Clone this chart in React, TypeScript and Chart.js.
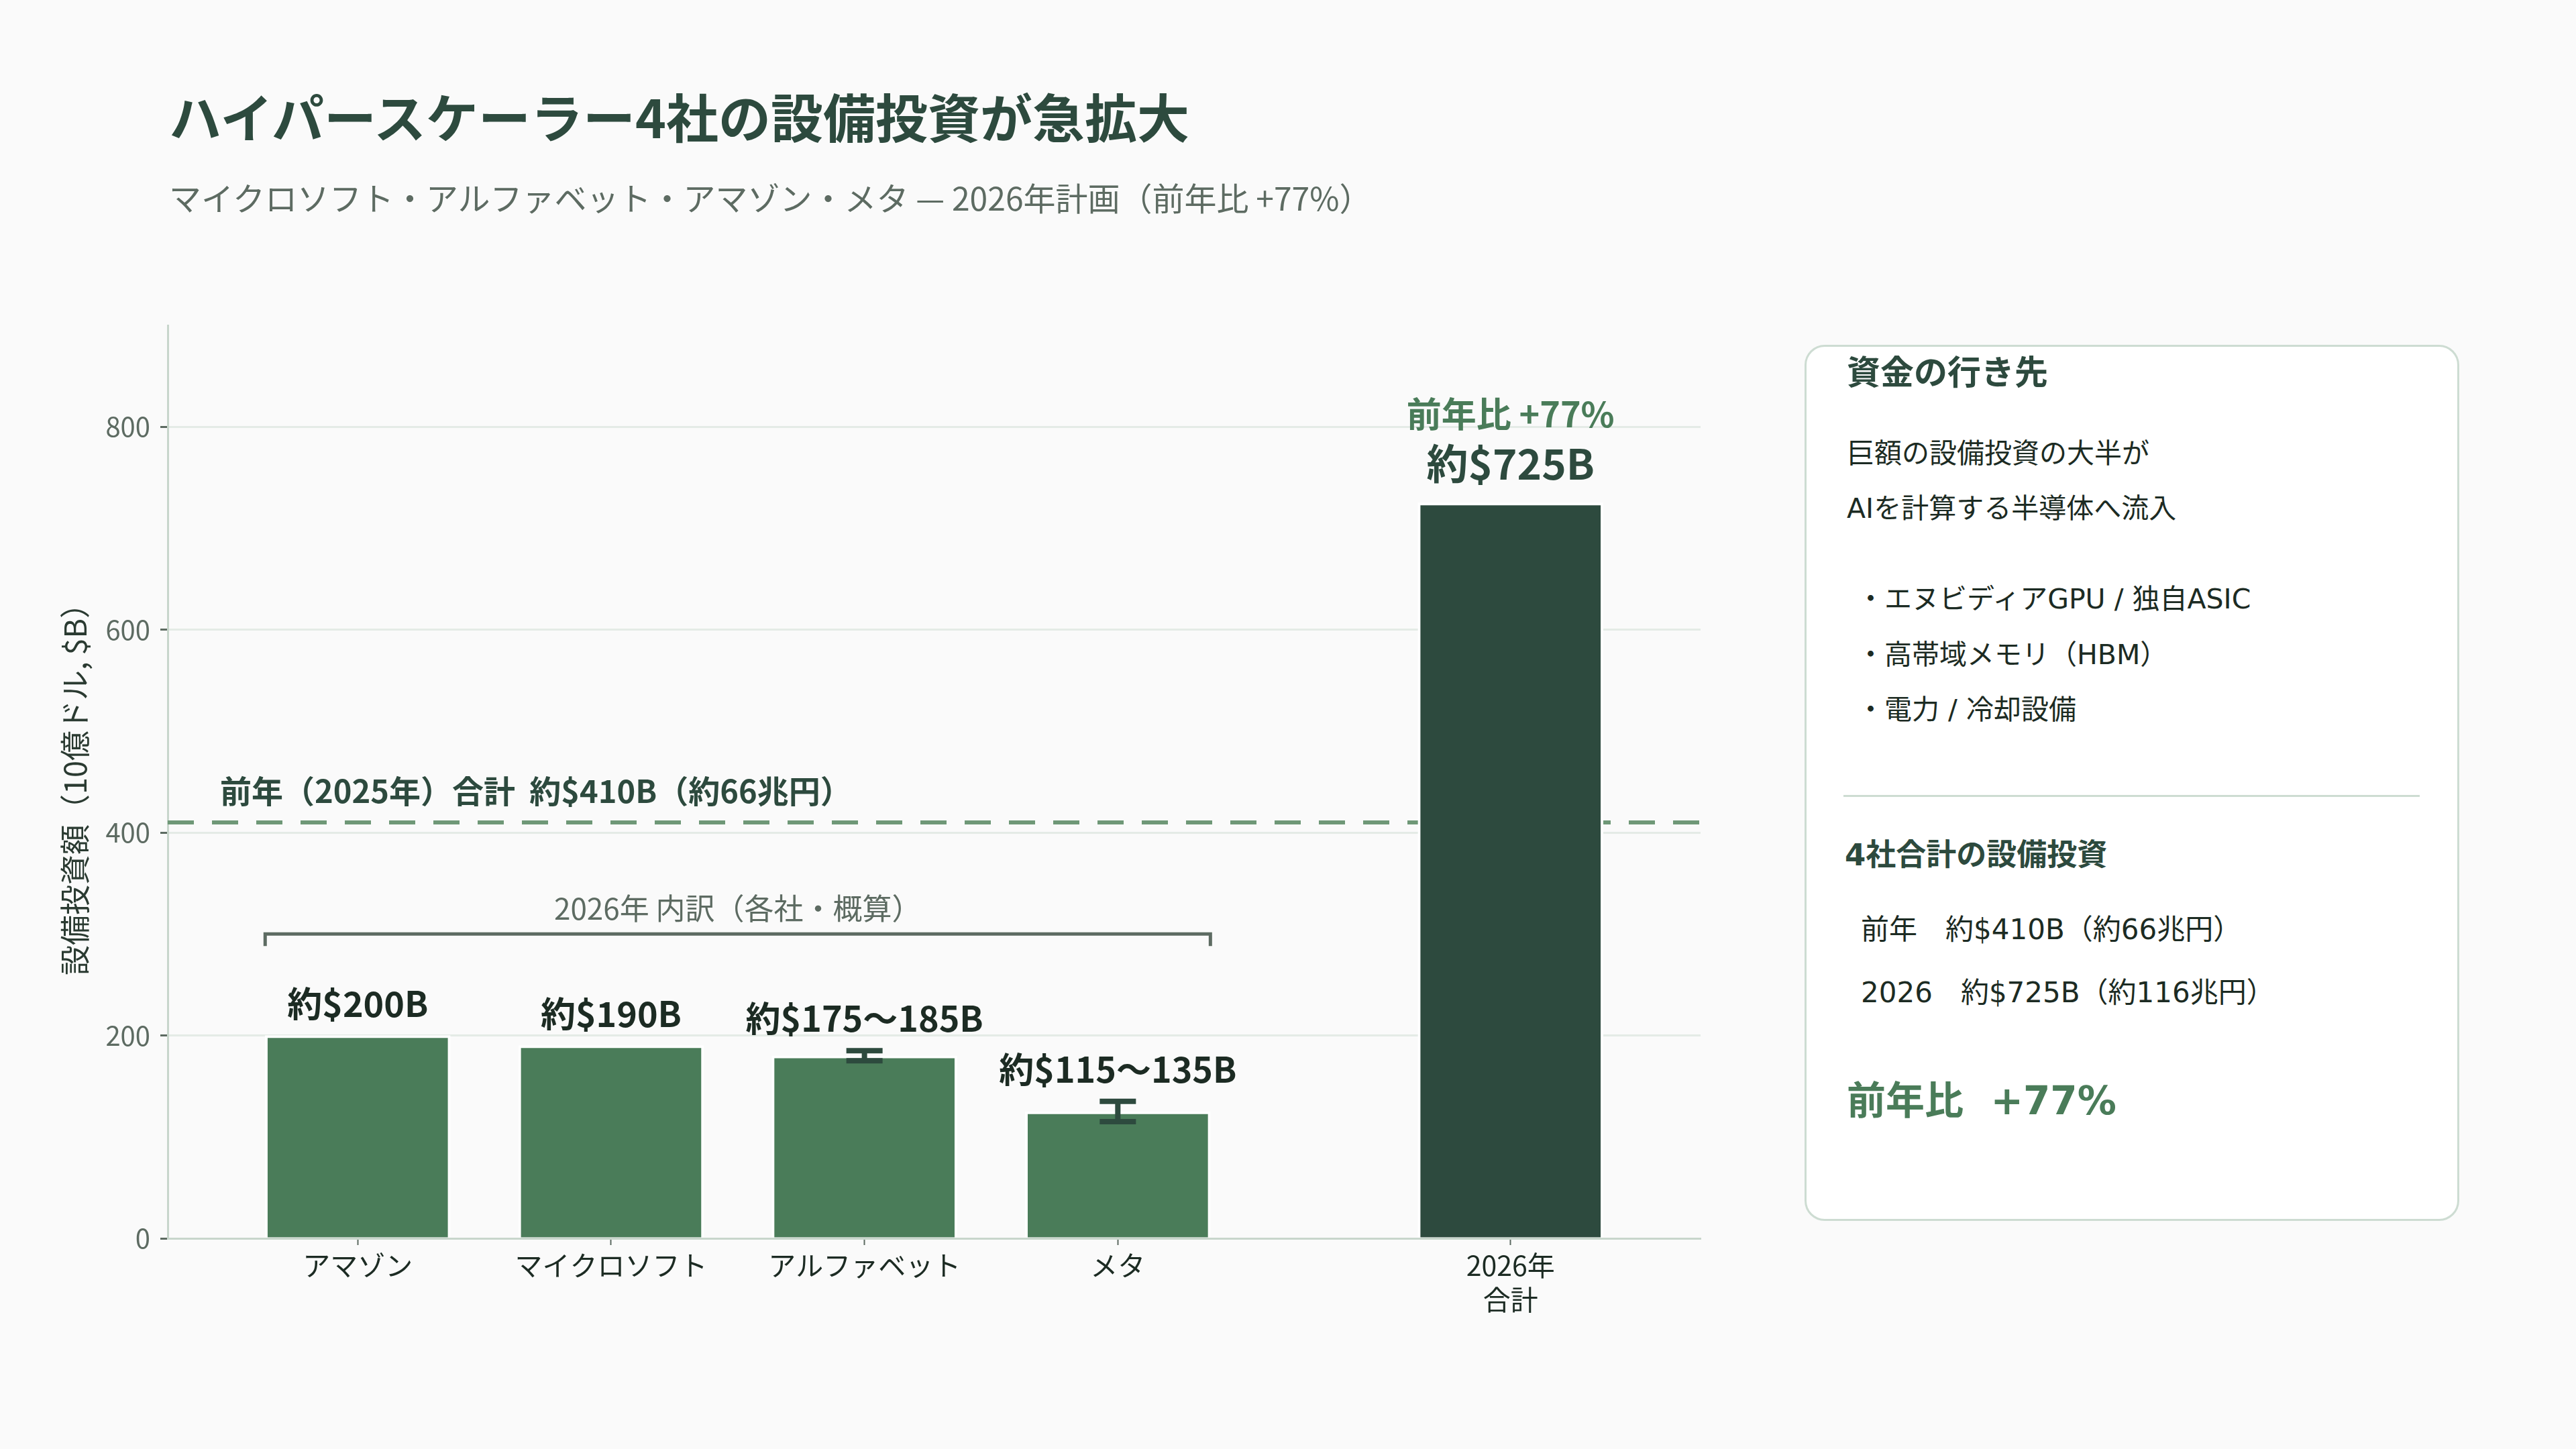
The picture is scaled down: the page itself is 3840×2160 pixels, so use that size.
import React, { useEffect, useRef } from 'react';
import { Chart, registerables } from 'chart.js';

Chart.register(...registerables);

// ---------- data ----------
const categories = ['アマゾン', 'マイクロソフト', 'アルファベット', 'メタ', '2026年\n合計'];
const slots = [0, 1, 2, 3, 4.55];
const capex = [200, 190, 180, 125, 725];
const rangeLow: (number | null)[] = [null, null, 175, 115, null];
const rangeHigh: (number | null)[] = [null, null, 185, 135, null];
const valueLabels = ['約$200B', '約$190B', '約$175〜185B', '約$115〜135B', '約$725B'];
const isTotal = [false, false, false, false, true];
const totalGrowthLabel = '前年比 +77%';
const prevYearTotal = 410;
const prevYearLabel = '前年（2025年）合計  約$410B（約66兆円）';
const breakdownLevel = 300;
const breakdownLabel = '2026年 内訳（各社・概算）';
const yTicks = [0, 200, 400, 600, 800];
const yMax = 900;
const yTitle = '設備投資額（10億ドル, $B）';

const FONT = '"Noto Sans CJK JP", "Noto Sans", sans-serif';
const PFONT = '"DejaVu Sans", "Noto Sans CJK JP", sans-serif';
const C_DARK = '#2d4a3e';
const C_MID = '#4a7c59';
const C_GRAY = '#5d6b62';
const C_TEXT = '#1c2b23';

const annotations = {
  id: 'annotations',
  beforeDatasetsDraw(chart: any) {
    const { ctx, chartArea, scales } = chart;
    const y = scales.y;
    const py = y.getPixelForValue(prevYearTotal);
    ctx.save();
    ctx.strokeStyle = '#6f9877';
    ctx.lineWidth = 6;
    ctx.setLineDash([39, 27]);
    ctx.beginPath();
    ctx.moveTo(chartArea.left, py);
    ctx.lineTo(chartArea.right, py);
    ctx.stroke();
    ctx.restore();
  },
  afterDatasetsDraw(chart: any) {
    const { ctx, chartArea, scales } = chart;
    const y = scales.y;
    const meta = chart.getDatasetMeta(0);
    ctx.save();
    // error bars
    meta.data.forEach((bar: any, i: number) => {
      const lo = rangeLow[i];
      const hi = rangeHigh[i];
      if (lo == null || hi == null) return;
      const yl = y.getPixelForValue(lo);
      const yh = y.getPixelForValue(hi);
      ctx.strokeStyle = C_DARK;
      ctx.lineWidth = 8;
      ctx.beginPath();
      ctx.moveTo(bar.x, yl);
      ctx.lineTo(bar.x, yh);
      ctx.moveTo(bar.x - 27, yl);
      ctx.lineTo(bar.x + 27, yl);
      ctx.moveTo(bar.x - 27, yh);
      ctx.lineTo(bar.x + 27, yh);
      ctx.stroke();
    });
    // value labels
    ctx.textAlign = 'center';
    ctx.textBaseline = 'alphabetic';
    meta.data.forEach((bar: any, i: number) => {
      const topVal = Math.max(capex[i], rangeHigh[i] ?? 0);
      const top = y.getPixelForValue(topVal);
      if (isTotal[i]) {
        ctx.fillStyle = C_DARK;
        ctx.font = `bold 62px ${FONT}`;
        ctx.fillText(valueLabels[i], bar.x, top - 35);
        ctx.fillStyle = C_MID;
        ctx.font = `bold 52px ${FONT}`;
        ctx.fillText(totalGrowthLabel, bar.x, top - 113);
      } else {
        ctx.fillStyle = C_TEXT;
        ctx.font = `bold 52px ${FONT}`;
        ctx.fillText(valueLabels[i], bar.x, top - 28);
      }
    });
    // previous-year label
    const py = y.getPixelForValue(prevYearTotal);
    ctx.textAlign = 'left';
    ctx.fillStyle = C_DARK;
    ctx.font = `bold 47px ${FONT}`;
    ctx.fillText(prevYearLabel, chartArea.left + 78, py - 29);
    // breakdown bracket
    const b0 = meta.data[0];
    const b3 = meta.data[3];
    const x0 = b0.x - b0.width / 2;
    const x1 = b3.x + b3.width / 2;
    const by = y.getPixelForValue(breakdownLevel);
    ctx.strokeStyle = C_GRAY;
    ctx.lineWidth = 5;
    ctx.beginPath();
    ctx.moveTo(x0, by + 18);
    ctx.lineTo(x0, by);
    ctx.lineTo(x1, by);
    ctx.lineTo(x1, by + 18);
    ctx.stroke();
    ctx.textAlign = 'center';
    ctx.fillStyle = C_GRAY;
    ctx.font = `44px ${FONT}`;
    ctx.fillText(breakdownLabel, (x0 + x1) / 2, by - 21);
    ctx.restore();
  },
};

function T(props: { x: number; cy: number; size: number; weight?: number; color: string; font?: string; children: any }) {
  const { x, cy, size, weight = 400, color, font = FONT, children } = props;
  const lh = Math.round(size * 1.2);
  return (
    <div
      style={{
        position: 'absolute',
        left: x,
        top: cy - lh / 2 - size * 0.056,
        fontSize: size,
        lineHeight: lh + 'px',
        fontWeight: weight,
        color,
        whiteSpace: 'pre',
        fontFamily: font,
      }}
    >
      {children}
    </div>
  );
}

export default function App() {
  const ref = useRef<HTMLCanvasElement>(null);
  useEffect(() => {
    document.body.style.margin = '0';
    document.body.style.background = '#fafafa';
    const chart = new Chart(ref.current as HTMLCanvasElement, {
      type: 'bar',
      data: {
        datasets: [
          {
            data: slots.map((x, i) => ({ x, y: capex[i] })),
            backgroundColor: isTotal.map((t) => (t ? C_DARK : C_MID)),
            borderColor: '#ffffff',
            borderWidth: 4,
            borderSkipped: 'start',
            barThickness: 276,
          } as any,
        ],
      },
      options: {
        responsive: false,
        animation: false,
        devicePixelRatio: 1,
        layout: { padding: { left: 0, top: 485, right: 105, bottom: 164 } },
        plugins: { legend: { display: false }, tooltip: { enabled: false } },
        scales: {
          x: {
            type: 'linear',
            min: -0.75,
            max: 5.3,
            offset: false,
            afterBuildTicks: (s: any) => {
              s.ticks = slots.map((v) => ({ value: v }));
            },
            afterFit: (s: any) => {
              s.height = 150;
            },
            grid: { offset: false, drawOnChartArea: false, drawTicks: true, tickLength: 10, tickColor: C_GRAY, tickWidth: 2 },
            border: { display: true, color: '#c8d6cc', width: 3 },
            ticks: {
              autoSkip: false,
              maxRotation: 0,
              padding: 5,
              color: C_TEXT,
              font: { family: FONT, size: 41, lineHeight: 1.25 },
              callback: (_v: any, i: number) => categories[i].split('\n'),
            },
          },
          y: {
            min: 0,
            max: yMax,
            afterBuildTicks: (s: any) => {
              s.ticks = yTicks.map((v) => ({ value: v }));
            },
            afterFit: (s: any) => {
              s.width = 250;
            },
            grid: { color: '#e4ebe6', lineWidth: 3, tickLength: 11, tickColor: C_GRAY, tickWidth: 3 },
            border: { color: '#c8d6cc', width: 3 },
            ticks: { padding: 15, color: C_GRAY, font: { family: FONT, size: 40 }, callback: (v: any) => String(v) },
            title: {
              display: true,
              text: yTitle,
              color: '#2a3a31',
              font: { family: FONT, size: 45 },
              padding: { top: 85, bottom: 0 },
            },
          },
        },
      } as any,
      plugins: [annotations],
    });
    return () => chart.destroy();
  }, []);

  return (
    <div style={{ position: 'relative', width: 3840, height: 2160, background: '#fafafa', overflow: 'hidden', fontFamily: FONT }}>
      <canvas ref={ref} width={2640} height={2160} style={{ position: 'absolute', left: 0, top: 0, width: 2640, height: 2160 }} />
      <T x={252} cy={176} size={78} weight={700} color={C_DARK}>ハイパースケーラー4社の設備投資が急拡大</T>
      <T x={252} cy={296} size={48} color={C_GRAY}>マイクロソフト・アルファベット・アマゾン・メタ — 2026年計画（前年比 +77%）</T>
      <div
        style={{
          position: 'absolute',
          left: 2690,
          top: 514,
          width: 976,
          height: 1306,
          boxSizing: 'border-box',
          border: '3px solid #cddcd2',
          borderRadius: 30,
          background: '#ffffff',
        }}
      />
      <T x={2753} cy={559} size={50} weight={700} color={C_DARK} font={PFONT}>資金の行き先</T>
      <T x={2753} cy={679} size={41} color={C_TEXT} font={PFONT}>巨額の設備投資の大半が</T>
      <T x={2753} cy={761} size={41} color={C_TEXT} font={PFONT}>AIを計算する半導体へ流入</T>
      <T x={2768} cy={896} size={41} color={C_TEXT} font={PFONT}>・エヌビディアGPU / 独自ASIC</T>
      <T x={2768} cy={979} size={41} color={C_TEXT} font={PFONT}>・高帯域メモリ（HBM）</T>
      <T x={2768} cy={1061} size={41} color={C_TEXT} font={PFONT}>・電力 / 冷却設備</T>
      <div style={{ position: 'absolute', left: 2748, top: 1185, width: 859, height: 3, background: '#cddcd2' }} />
      <T x={2750} cy={1278} size={45} weight={700} color={C_DARK} font={PFONT}>4社合計の設備投資</T>
      <T x={2774} cy={1388} size={42} color={C_TEXT} font={PFONT}>前年　約$410B（約66兆円）</T>
      <T x={2774} cy={1482} size={42} color={C_TEXT} font={PFONT}>2026　約$725B（約116兆円）</T>
      <T x={2753} cy={1644} size={58} weight={700} color={C_MID} font={PFONT}>前年比  +77%</T>
    </div>
  );
}
